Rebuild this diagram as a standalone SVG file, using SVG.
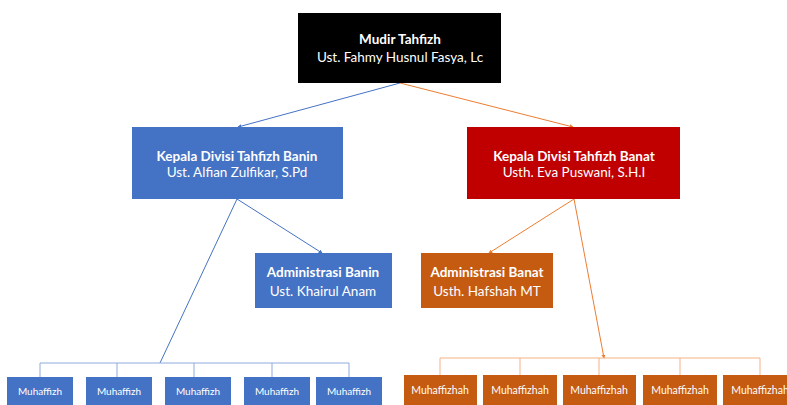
<svg xmlns="http://www.w3.org/2000/svg" width="787" height="405" viewBox="0 0 787 405">
  <defs>
    <style>
      .t { font-family: Lato, "Liberation Sans", sans-serif; fill: #ffffff; text-anchor: middle; }
      .b { font-weight: bold; font-size: 13.5px; }
      .n { font-size: 13.5px; }
      .s { font-size: 10px; }
      .sh { font-size: 10.5px; }
      .blue { fill: #4472C4; }
      .red { fill: #C00000; }
      .orange { fill: #C55A11; }
      .lb { stroke: #4472C4; stroke-width: 1; fill: none; }
      .lo { stroke: #ED7D31; stroke-width: 1; fill: none; }
      .bb { stroke: #8FAADC; stroke-width: 1; fill: none; }
      .bo { stroke: #F4B183; stroke-width: 1; fill: none; }
    </style>
    <marker id="ab" viewBox="0 0 6 6" refX="5" refY="3" markerWidth="4" markerHeight="4" orient="auto">
      <path d="M0,0 L6,3 L0,6 z" fill="#4472C4"/>
    </marker>
    <marker id="ao" viewBox="0 0 6 6" refX="5" refY="3" markerWidth="4" markerHeight="4" orient="auto">
      <path d="M0,0 L6,3 L0,6 z" fill="#ED7D31"/>
    </marker>
  </defs>
  <rect width="787" height="405" fill="#ffffff"/>

  <!-- connectors -->
  <g id="connectors">
    <line class="lb" x1="400" y1="83" x2="238" y2="127" marker-end="url(#ab)"/>
    <line class="lo" x1="400" y1="83" x2="573" y2="127" marker-end="url(#ao)"/>
    <line class="lb" x1="237" y1="199" x2="322" y2="253" marker-end="url(#ab)"/>
    <line class="lb" x1="237" y1="199" x2="160" y2="363"/>
    <line class="lo" x1="574" y1="199" x2="489" y2="253" marker-end="url(#ao)"/>
    <line class="lo" x1="574" y1="199" x2="604" y2="358" marker-end="url(#ao)"/>
    <!-- banin bus -->
    <path class="bb" d="M40,377 V363 H349 V377 M117,363 V377 M194,363 V377 M272,363 V377"/>
    <!-- banat bus -->
    <path class="bo" d="M440,375 V358 H760 V375 M520,358 V375 M599,358 V375 M680,358 V375"/>
  </g>

  <g id="mudir">
    <rect x="298" y="13" width="203" height="70" fill="#000000"/>
    <text class="t b" x="400" y="44">Mudir Tahfizh</text>
    <text class="t n" x="400" y="62">Ust. Fahmy Husnul Fasya, Lc</text>
  </g>

  <g id="kepala-banin">
    <rect class="blue" x="132" y="127" width="211" height="72"/>
    <text class="t b" x="237" y="161">Kepala Divisi Tahfizh Banin</text>
    <text class="t n" x="237" y="177">Ust. Alfian Zulfikar, S.Pd</text>
  </g>

  <g id="kepala-banat">
    <rect class="red" x="467" y="127" width="213" height="72"/>
    <text class="t b" x="574" y="161">Kepala Divisi Tahfizh Banat</text>
    <text class="t n" x="574" y="177">Usth. Eva Puswani, S.H.I</text>
  </g>

  <g id="admin-banin">
    <rect class="blue" x="255" y="253" width="137" height="55"/>
    <text class="t b" x="323" y="277">Administrasi Banin</text>
    <text class="t n" x="323" y="296">Ust. Khairul Anam</text>
  </g>

  <g id="admin-banat">
    <rect class="orange" x="421" y="253" width="132" height="55"/>
    <text class="t b" x="487" y="277">Administrasi Banat</text>
    <text class="t n" x="487" y="296">Usth. Hafshah MT</text>
  </g>

  <g id="muhaffizh-1"><rect class="blue" x="7" y="377" width="66" height="40"/><text class="t s" x="40" y="395">Muhaffizh</text></g>
  <g id="muhaffizh-2"><rect class="blue" x="86" y="377" width="66" height="40"/><text class="t s" x="119" y="395">Muhaffizh</text></g>
  <g id="muhaffizh-3"><rect class="blue" x="165" y="377" width="66" height="40"/><text class="t s" x="198" y="395">Muhaffizh</text></g>
  <g id="muhaffizh-4"><rect class="blue" x="244" y="377" width="66" height="40"/><text class="t s" x="277" y="395">Muhaffizh</text></g>
  <g id="muhaffizh-5"><rect class="blue" x="316" y="377" width="66" height="40"/><text class="t s" x="349" y="395">Muhaffizh</text></g>

  <g id="muhaffizhah-1"><rect class="orange" x="404" y="375" width="73" height="40"/><text class="t sh" x="440" y="394">Muhaffizhah</text></g>
  <g id="muhaffizhah-2"><rect class="orange" x="483" y="375" width="74" height="40"/><text class="t sh" x="520" y="394">Muhaffizhah</text></g>
  <g id="muhaffizhah-3"><rect class="orange" x="563" y="375" width="73" height="40"/><text class="t sh" x="599" y="394">Muhaffizhah</text></g>
  <g id="muhaffizhah-4"><rect class="orange" x="643" y="375" width="74" height="40"/><text class="t sh" x="680" y="394">Muhaffizhah</text></g>
  <g id="muhaffizhah-5"><rect class="orange" x="723" y="375" width="74" height="40"/><text class="t sh" x="760" y="394">Muhaffizhah</text></g>
</svg>
